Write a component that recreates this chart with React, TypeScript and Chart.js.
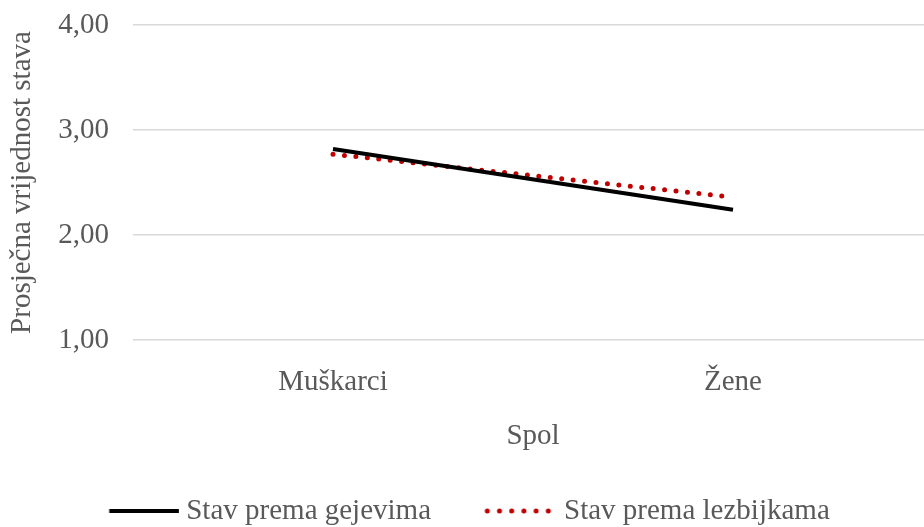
import React, { useEffect, useRef } from "react";
import { Chart, registerables } from "chart.js";

Chart.register(...registerables);

const categories = ["Muškarci", "Žene"];
const seriesNames = ["Stav prema gejevima", "Stav prema lezbijkama"];
const gayValues = [2.82, 2.24];
const lesbianValues = [2.77, 2.36];
const yTicks = [1, 2, 3, 4];

const FONT = "'Liberation Serif', 'Times New Roman', serif";
const TEXT = "#595959";
const BLACK = "#000000";
const RED = "#c00000";

function makeLegendSymbol(color: string, width: number, dash: number[], cap: CanvasLineCap, from: number, to: number) {
  const c = document.createElement("canvas");
  c.width = 84;
  c.height = 12;
  const ctx = c.getContext("2d")!;
  ctx.strokeStyle = color;
  ctx.lineWidth = width;
  ctx.lineCap = cap;
  ctx.setLineDash(dash);
  ctx.beginPath();
  ctx.moveTo(from, 6);
  ctx.lineTo(to, 6);
  ctx.stroke();
  return c;
}

export default function App() {
  const ref = useRef<HTMLCanvasElement | null>(null);

  useEffect(() => {
    if (!ref.current) return;
    const blackSym = makeLegendSymbol(BLACK, 4, [], "butt", 13.75, 83.75);
    const redSym = makeLegendSymbol(RED, 5, [0, 12.2], "round", 14, 75.5);
    const chart = new Chart(ref.current, {
      type: "line",
      data: {
        labels: categories,
        datasets: [
          {
            label: seriesNames[0],
            data: gayValues,
            borderColor: BLACK,
            backgroundColor: BLACK,
            borderWidth: 4,
            borderCapStyle: "butt",
            pointRadius: 0,
            pointHoverRadius: 0,
            pointStyle: blackSym as any,
            tension: 0,
          },
          {
            label: seriesNames[1],
            data: lesbianValues,
            borderColor: RED,
            backgroundColor: RED,
            borderWidth: 5,
            borderDash: [0, 11.5],
            borderCapStyle: "round",
            pointRadius: 0,
            pointHoverRadius: 0,
            pointStyle: redSym as any,
            tension: 0,
          },
        ],
      },
      options: {
        animation: false,
        responsive: false,
        maintainAspectRatio: false,
        layout: { padding: { top: 0, right: 1, left: 0, bottom: -8.5 } },
        plugins: {
          tooltip: { enabled: false },
          legend: {
            position: "bottom",
            labels: {
              usePointStyle: true,
              pointStyleWidth: 68.5,
              padding: 50,
              color: TEXT,
              font: { family: FONT, size: 29 },
            },
          },
        },
        scales: {
          x: {
            type: "category",
            offset: true,
            grid: { display: false, drawTicks: false },
            border: { display: false },
            ticks: { color: TEXT, font: { family: FONT, size: 29 }, padding: 25 },
            title: {
              display: true,
              text: "Spol",
              color: TEXT,
              font: { family: FONT, size: 29 },
              padding: { top: 0, bottom: -7.4 },
            },
            afterFit: (axis: any) => {
              axis.height = 106.5;
            },
          },
          y: {
            type: "linear",
            min: 1,
            max: 4,
            afterBuildTicks: (axis: any) => {
              axis.ticks = yTicks.map((v) => ({ value: v }));
            },
            grid: { color: "#d9d9d9", lineWidth: 1.5, drawTicks: false },
            border: { display: false },
            ticks: {
              color: TEXT,
              font: { family: FONT, size: 29 },
              padding: 24,
              callback: (v: any) => Number(v).toFixed(2).replace(".", ","),
            },
            title: {
              display: true,
              text: "Prosječna vrijednost stava",
              color: TEXT,
              font: { family: FONT, size: 29 },
              padding: { top: 5, bottom: 0 },
            },
            afterFit: (axis: any) => {
              axis.width = 133;
              axis.paddingTop = 25;
              axis.paddingBottom = 0;
            },
          },
        },
      },
    });
    return () => chart.destroy();
  }, []);

  return (
    <div
      style={{
        position: "fixed",
        left: 0,
        top: 0,
        width: 924,
        height: 527,
        overflow: "hidden",
        background: "#ffffff",
      }}
    >
      <canvas ref={ref} width={934} height={527} style={{ display: "block" }} />
    </div>
  );
}
